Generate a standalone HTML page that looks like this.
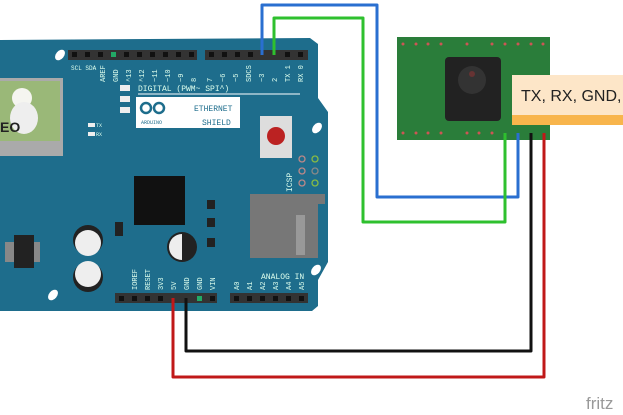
<!DOCTYPE html>
<html><head><style>body{margin:0;background:#fff}svg{display:block}</style></head><body>
<svg width="623" height="415" viewBox="0 0 623 415" xmlns="http://www.w3.org/2000/svg" font-family="Liberation Mono, monospace">
<!-- board -->
<path d="M0 40 L310 38 L318 44 L318 98 L328 112 L328 262 L318 280 L318 306 L312 311 L0 311 Z" fill="#1e6d8c"/>
<!-- holes -->
<ellipse cx="60" cy="55" rx="4" ry="6" fill="#fff" transform="rotate(40 60 55)"/>
<ellipse cx="317" cy="128" rx="4" ry="6" fill="#fff" transform="rotate(40 317 128)"/>
<ellipse cx="316" cy="270" rx="4" ry="6" fill="#fff" transform="rotate(40 316 270)"/>
<ellipse cx="53" cy="295" rx="4" ry="6" fill="#fff" transform="rotate(40 53 295)"/>
<!-- headers -->
<rect x="68" y="50" width="129" height="10" fill="#333"/>
<rect x="205" y="50" width="103" height="10" fill="#333"/>
<rect x="115" y="293" width="102" height="10" fill="#333"/>
<rect x="230" y="293" width="78" height="10" fill="#333"/>
<g fill="#111">
<rect x="72" y="52" width="5" height="5"/><rect x="85" y="52" width="5" height="5"/><rect x="98" y="52" width="5" height="5"/><rect x="111" y="52" width="5" height="5" fill="#2a6"/><rect x="124" y="52" width="5" height="5"/><rect x="137" y="52" width="5" height="5"/><rect x="150" y="52" width="5" height="5"/><rect x="163" y="52" width="5" height="5"/><rect x="176" y="52" width="5" height="5"/><rect x="189" y="52" width="5" height="5"/>
<rect x="209" y="52" width="5" height="5"/><rect x="222" y="52" width="5" height="5"/><rect x="235" y="52" width="5" height="5"/><rect x="248" y="52" width="5" height="5"/><rect x="285" y="52" width="5" height="5"/><rect x="298" y="52" width="5" height="5"/>
<rect x="119" y="296" width="5" height="5"/><rect x="132" y="296" width="5" height="5"/><rect x="145" y="296" width="5" height="5"/><rect x="158" y="296" width="5" height="5"/><rect x="197" y="296" width="5" height="5" fill="#2a6"/><rect x="210" y="296" width="5" height="5"/>
<rect x="234" y="296" width="5" height="5"/><rect x="247" y="296" width="5" height="5"/><rect x="260" y="296" width="5" height="5"/><rect x="273" y="296" width="5" height="5"/><rect x="286" y="296" width="5" height="5"/><rect x="299" y="296" width="5" height="5"/>
</g>
<!-- labels -->
<g fill="#dfe" font-size="6">
<text x="71" y="70">SCL SDA</text>
<text x="138" y="91" font-size="8">DIGITAL (PWM~ SPI^)</text>
<text x="261" y="279" font-size="8">ANALOG IN</text>
</g>
<g fill="#dfe" font-size="7">
<text transform="translate(105,82) rotate(-90)">AREF</text><text transform="translate(118,82) rotate(-90)">GND</text><text transform="translate(131,82) rotate(-90)">^13</text><text transform="translate(144,82) rotate(-90)">^12</text><text transform="translate(157,82) rotate(-90)">~11</text><text transform="translate(170,82) rotate(-90)">~10</text><text transform="translate(183,82) rotate(-90)">~9</text><text transform="translate(196,82) rotate(-90)">8</text>
<text transform="translate(212,82) rotate(-90)">7</text><text transform="translate(225,82) rotate(-90)">~6</text><text transform="translate(238,82) rotate(-90)">~5</text><text transform="translate(251,82) rotate(-90)">SDCS</text><text transform="translate(264,82) rotate(-90)">~3</text><text transform="translate(277,82) rotate(-90)">2</text><text transform="translate(290,82) rotate(-90)">TX 1</text><text transform="translate(303,82) rotate(-90)">RX 0</text>
<text transform="translate(137,290) rotate(-90)">IOREF</text><text transform="translate(150,290) rotate(-90)">RESET</text><text transform="translate(163,290) rotate(-90)">3V3</text><text transform="translate(176,290) rotate(-90)">5V</text><text transform="translate(189,290) rotate(-90)">GND</text><text transform="translate(202,290) rotate(-90)">GND</text><text transform="translate(215,290) rotate(-90)">VIN</text>
<text transform="translate(239,290) rotate(-90)">A0</text><text transform="translate(252,290) rotate(-90)">A1</text><text transform="translate(265,290) rotate(-90)">A2</text><text transform="translate(278,290) rotate(-90)">A3</text><text transform="translate(291,290) rotate(-90)">A4</text><text transform="translate(304,290) rotate(-90)">A5</text>
<text transform="translate(292,192) rotate(-90)" font-size="8">ICSP</text>
</g>
<line x1="138" y1="94" x2="300" y2="94" stroke="#fff" stroke-width="1"/>
<rect x="120" y="85" width="10" height="6" fill="#eee"/><rect x="120" y="96" width="10" height="6" fill="#eee"/><rect x="120" y="107" width="10" height="6" fill="#eee"/>
<rect x="88" y="123" width="7" height="4" fill="#eee"/><rect x="88" y="132" width="7" height="4" fill="#eee"/>
<text x="96" y="127" font-size="5" fill="#dfe">TX</text><text x="96" y="136" font-size="5" fill="#dfe">RX</text>
<!-- logo box -->
<rect x="136" y="97" width="104" height="31" fill="#fff"/>
<circle cx="146" cy="108" r="5" fill="none" stroke="#1e6d8c" stroke-width="2.5"/><circle cx="159" cy="108" r="5" fill="none" stroke="#1e6d8c" stroke-width="2.5"/>
<text x="141" y="124" font-size="5" fill="#1e6d8c">ARDUINO</text>
<text x="194" y="111" font-size="8" fill="#1e6d8c">ETHERNET</text>
<text x="202" y="125" font-size="8" fill="#1e6d8c">SHIELD</text>
<!-- ethernet jack -->
<rect x="0" y="78" width="63" height="78" fill="#aaa"/>
<rect x="0" y="81" width="60" height="60" fill="#9ab878"/>
<circle cx="22" cy="98" r="10" fill="#f5f5f0"/><ellipse cx="24" cy="118" rx="14" ry="16" fill="#eee"/>
<text x="0" y="132" font-family="Liberation Sans,sans-serif" font-size="14" font-weight="bold" fill="#222">EO</text>
<!-- reset -->
<rect x="260" y="116" width="32" height="42" fill="#ddd"/><circle cx="276" cy="136" r="9" fill="#b22"/>
<g fill="none" stroke-width="1.3"><circle cx="302" cy="159" r="3" stroke="#b88"/><circle cx="315" cy="159" r="3" stroke="#8b4"/><circle cx="302" cy="171" r="3" stroke="#b88"/><circle cx="315" cy="171" r="3" stroke="#888"/><circle cx="302" cy="183" r="3" stroke="#b88"/><circle cx="315" cy="183" r="3" stroke="#8b4"/></g>
<!-- chip -->
<rect x="134" y="176" width="51" height="49" fill="#111"/>
<rect x="207" y="200" width="8" height="9" fill="#222"/><rect x="207" y="218" width="8" height="9" fill="#222"/><rect x="207" y="238" width="8" height="9" fill="#222"/><rect x="115" y="222" width="8" height="14" fill="#222"/>
<!-- SD -->
<path d="M250 194 L325 194 L325 204 L318 204 L318 258 L250 258 Z" fill="#777"/>
<rect x="296" y="215" width="9" height="40" fill="#999"/>
<!-- regulator -->
<rect x="5" y="242" width="35" height="20" fill="#888"/><rect x="14" y="235" width="20" height="33" fill="#222"/>
<!-- caps -->
<circle cx="88" cy="240" r="15" fill="#222"/><circle cx="88" cy="243" r="13" fill="#eee"/>
<circle cx="88" cy="277" r="15" fill="#222"/><circle cx="88" cy="274" r="13" fill="#eee"/>
<circle cx="182" cy="247" r="15" fill="#222"/><path d="M182 234 A13 13 0 0 0 182 260 Z" fill="#eee"/>
<!-- module -->
<rect x="397" y="37" width="153" height="103" fill="#2a7d3a"/>
<rect x="445" y="57" width="56" height="64" rx="4" fill="#222"/><circle cx="472" cy="80" r="14" fill="#333"/><circle cx="472" cy="74" r="3" fill="#633"/>
<g fill="#c55"><circle cx="403" cy="44" r="1.5"/><circle cx="416" cy="44" r="1.5"/><circle cx="428" cy="44" r="1.5"/><circle cx="441" cy="44" r="1.5"/><circle cx="467" cy="44" r="1.5"/><circle cx="492" cy="44" r="1.5"/><circle cx="505" cy="44" r="1.5"/><circle cx="518" cy="44" r="1.5"/><circle cx="531" cy="44" r="1.5"/><circle cx="543" cy="44" r="1.5"/>
<circle cx="403" cy="133" r="1.5"/><circle cx="416" cy="133" r="1.5"/><circle cx="428" cy="133" r="1.5"/><circle cx="441" cy="133" r="1.5"/><circle cx="467" cy="133" r="1.5"/><circle cx="479" cy="133" r="1.5"/><circle cx="492" cy="133" r="1.5"/></g>
<!-- label -->
<rect x="512" y="75" width="111" height="41" fill="#fde6c8"/>
<rect x="512" y="115" width="111" height="10" fill="#f8b54c"/>
<text x="521" y="101" font-family="Liberation Sans,sans-serif" font-size="16" fill="#222">TX, RX, GND,</text>
<!-- wires -->
<g fill="none" stroke-width="3" stroke-linejoin="round">
<polyline points="262,55 262,5 377,5 377,197 518,197 518,133" stroke="#2a6fd0"/>
<polyline points="274,55 274,18 363,18 363,222 505,222 505,133" stroke="#2ec02e"/>
<polyline points="186,298 186,351 531,351 531,133" stroke="#111"/>
<polyline points="173,298 173,377 544,377 544,133" stroke="#c01818"/>
</g>
<text x="586" y="409" font-family="Liberation Sans,sans-serif" font-size="17" fill="#999">fritz</text>
</svg>
</body></html>
